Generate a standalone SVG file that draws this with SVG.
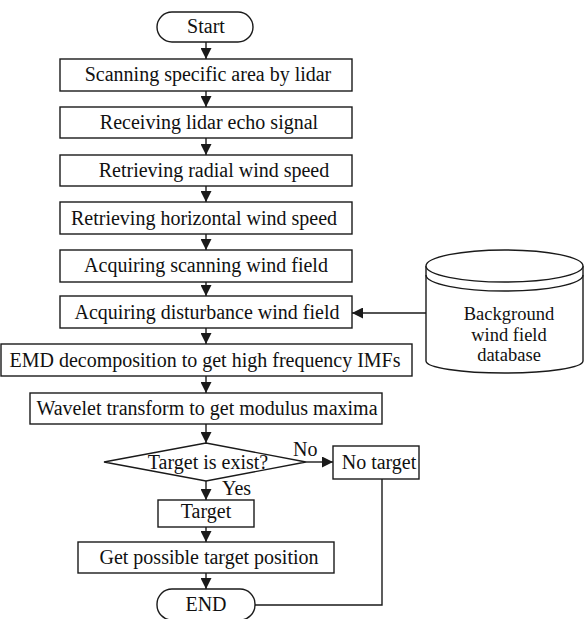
<svg xmlns="http://www.w3.org/2000/svg" width="585" height="619" viewBox="0 0 585 619">
<style>
  .shape { fill: #ffffff; stroke: #1a1a1a; stroke-width: 1.4; }
  .line { fill: none; stroke: #1a1a1a; stroke-width: 1.4; }
  .t { font-family: "Liberation Serif", "Times New Roman", serif; font-size: 20px; fill: #111111; text-anchor: middle; }
  .db { font-family: "Liberation Serif", "Times New Roman", serif; font-size: 18.5px; fill: #111111; text-anchor: middle; }
  .lab { font-family: "Liberation Serif", "Times New Roman", serif; font-size: 20px; fill: #111111; }
</style>
<defs>
  <marker id="ah" viewBox="0 0 11 11" refX="11" refY="5.5" markerWidth="11" markerHeight="11" orient="auto" markerUnits="userSpaceOnUse">
    <path d="M0,0 L11,5.5 L0,11 z" fill="#1a1a1a"/>
  </marker>
</defs>
<rect width="585" height="619" fill="#ffffff"/>

<g id="connectors">
  <line class="line" x1="206" y1="42" x2="206" y2="59" marker-end="url(#ah)"/>
  <line class="line" x1="206" y1="91" x2="206" y2="107" marker-end="url(#ah)"/>
  <line class="line" x1="206" y1="138" x2="206" y2="155" marker-end="url(#ah)"/>
  <line class="line" x1="206" y1="186" x2="206" y2="202" marker-end="url(#ah)"/>
  <line class="line" x1="206" y1="234" x2="206" y2="250" marker-end="url(#ah)"/>
  <line class="line" x1="206" y1="282" x2="206" y2="296" marker-end="url(#ah)"/>
  <line class="line" x1="206" y1="328" x2="206" y2="344" marker-end="url(#ah)"/>
  <line class="line" x1="206" y1="376" x2="206" y2="393" marker-end="url(#ah)"/>
  <line class="line" x1="206" y1="424" x2="206" y2="443" marker-end="url(#ah)"/>
  <line class="line" x1="206" y1="481" x2="206" y2="500" marker-end="url(#ah)"/>
  <line class="line" x1="206" y1="527" x2="206" y2="542" marker-end="url(#ah)"/>
  <line class="line" x1="206" y1="573" x2="206" y2="589" marker-end="url(#ah)"/>
  <line class="line" x1="306" y1="462" x2="333" y2="462" marker-end="url(#ah)"/>
  <line class="line" x1="426" y1="313" x2="352" y2="313" marker-end="url(#ah)"/>
  <polyline class="line" points="382,479 382,605 255,605"/>
  <text class="lab" x="293" y="456">No</text>
  <text class="lab" x="222" y="495">Yes</text>
</g>

<g id="start">
  <rect class="shape" x="157" y="12" width="96" height="30" rx="15" ry="15"/>
  <text class="t" x="206" y="33">Start</text>
</g>
<g id="scan">
  <rect class="shape" x="60" y="59" width="292" height="32"/>
  <text class="t" x="208" y="81">Scanning specific area by lidar</text>
</g>
<g id="receive">
  <rect class="shape" x="60" y="107" width="292" height="31"/>
  <text class="t" x="209" y="129">Receiving lidar echo signal</text>
</g>
<g id="radial">
  <rect class="shape" x="60" y="155" width="292" height="31"/>
  <text class="t" x="214" y="177">Retrieving radial wind speed</text>
</g>
<g id="horizontal">
  <rect class="shape" x="60" y="202" width="292" height="32"/>
  <text class="t" x="204" y="225">Retrieving horizontal wind speed</text>
</g>
<g id="scanfield">
  <rect class="shape" x="60" y="250" width="292" height="32"/>
  <text class="t" x="206" y="272">Acquiring scanning wind field</text>
</g>
<g id="disturb">
  <rect class="shape" x="60" y="296" width="292" height="32"/>
  <text class="t" x="207" y="319">Acquiring disturbance wind field</text>
</g>
<g id="emd">
  <rect class="shape" x="1" y="344" width="411" height="32"/>
  <text class="t" x="205" y="367">EMD decomposition to get high frequency IMFs</text>
</g>
<g id="wavelet">
  <rect class="shape" x="30" y="393" width="352" height="31"/>
  <text class="t" x="207" y="415">Wavelet transform to get modulus maxima</text>
</g>
<g id="decision">
  <polygon class="shape" points="104,462 206,443 306,462 206,481"/>
  <text class="t" x="208" y="469">Target is exist?</text>
</g>
<g id="notarget">
  <rect class="shape" x="333" y="446" width="86" height="33"/>
  <text class="t" x="379" y="469">No target</text>
</g>
<g id="target">
  <rect class="shape" x="158" y="500" width="96" height="27"/>
  <text class="t" x="206" y="518">Target</text>
</g>
<g id="position">
  <rect class="shape" x="78" y="542" width="256" height="31"/>
  <text class="t" x="209" y="564">Get possible target position</text>
</g>
<g id="end">
  <rect class="shape" x="157" y="589" width="98" height="31" rx="15" ry="15"/>
  <text class="t" x="206" y="611">END</text>
</g>
<g id="database">
  <path class="shape" d="M426,266 L426,361 A78.5,12 0 0 0 583,361 L583,266"/>
  <ellipse class="shape" cx="504.5" cy="266" rx="78.5" ry="16"/>
  <path class="line" d="M426,275 A78.5,16 0 0 0 583,275"/>
  <text class="db" x="509" y="320">Background</text>
  <text class="db" x="509" y="340.5">wind field</text>
  <text class="db" x="509" y="361">database</text>
</g>
</svg>
